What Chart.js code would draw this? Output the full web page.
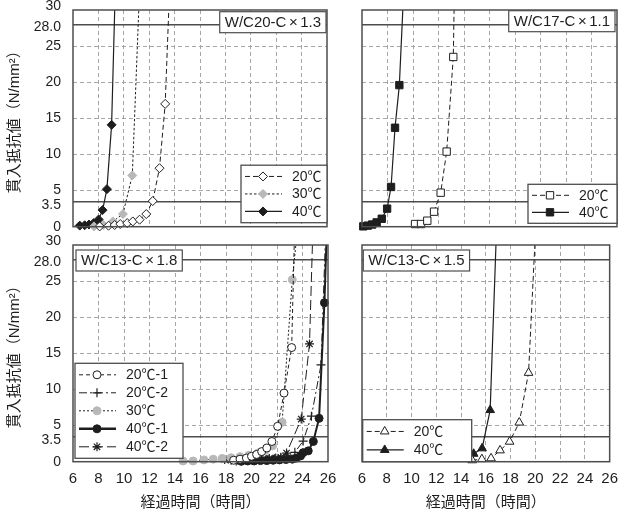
<!DOCTYPE html>
<html lang="ja">
<head>
<meta charset="utf-8">
<script src="https://cdn.jsdelivr.net/npm/chart.js@4.4.1/dist/chart.umd.min.js"></script>
<style>
  html, body { margin: 0; padding: 0; background: #fff; }
  #wrap { position: relative; width: 626px; height: 517px; }
  #wrap canvas { position: absolute; left: 0; top: 0; }
</style>
</head>
<body>
<div id="wrap">
  <canvas id="p1" width="626" height="517"></canvas>
  <canvas id="p2" width="626" height="517"></canvas>
  <canvas id="p3" width="626" height="517"></canvas>
  <canvas id="p4" width="626" height="517"></canvas>
</div>
<script>
// axis ticks shared by all four panels
const yTickValues = [0, 3.5, 5, 10, 15, 20, 25, 28, 30];
const yTickLabels = ['0', '3.5', '5', '10', '15', '20', '25', '28.0', '30'];
const refValues = [3.5, 28];          // solid reference lines
const xMin = 6, xMax = 26, xStep = 2;

const panelTitles = ['W/C20-C×1.3', 'W/C17-C×1.1', 'W/C13-C×1.8', 'W/C13-C×1.5'];
const yTitle = '貫入抵抗値（N/mm²）';
const xTitle = '経過時間（時間）';

// W/C20-C×1.3
const p1Labels = ['20℃', '30℃', '40℃'];
const p1T20 = [8.1, 8.8, 9.28, 9.72, 10.27, 10.71, 11.24, 11.77, 12.28, 12.81, 13.26, 13.65];
const p1V20 = [0.04, 0.14, 0.23, 0.37, 0.5, 0.73, 0.97, 1.75, 3.55, 8.1, 17.0, 35];
const p1T30 = [7.65, 8.41, 9.14, 9.93, 10.67, 11.29];
const p1V30 = [0.04, 0.23, 0.73, 1.75, 7.1, 35];
const p1T40 = [6.53, 6.92, 7.26, 7.63, 8.02, 8.33, 8.67, 9.04, 9.36];
const p1V40 = [0.15, 0.2, 0.3, 0.5, 1.0, 2.3, 5.2, 14.1, 35];

// W/C17-C×1.1
const p2Labels = ['20℃', '40℃'];
const p2T20 = [10.16, 10.63, 11.12, 11.65, 12.17, 12.64, 13.16, 13.27];
const p2V20 = [0.37, 0.37, 0.83, 2.08, 4.71, 10.4, 23.5, 35];
const p2T40 = [6.1, 6.45, 6.8, 7.15, 7.55, 7.97, 8.28, 8.59, 8.93, 9.33];
const p2V40 = [0.05, 0.15, 0.3, 0.6, 1.1, 2.5, 5.5, 13.7, 19.6, 35];

// W/C13-C×1.8
const p3Labels = ['20℃-1', '20℃-2', '30℃', '40℃-1', '40℃-2'];
const p3T20a = [18.6, 19.1, 19.6, 20.0, 20.4, 20.8, 21.2, 21.6, 22.05, 22.55, 23.15, 23.42];
const p3V20a = [0.2, 0.35, 0.5, 0.75, 1.0, 1.4, 1.9, 2.8, 4.9, 9.5, 15.8, 35];
const p3T20b = [18.8, 19.3, 19.8, 20.3, 20.8, 21.3, 21.8, 22.3, 22.8, 23.4, 24.05, 24.7, 25.45, 25.88];
const p3V20b = [0.1, 0.15, 0.2, 0.25, 0.3, 0.35, 0.4, 0.5, 0.7, 1.3, 2.85, 6.3, 13.4, 35];
const p3T30 = [14.63, 15.42, 16.27, 17.0, 17.7, 18.4, 19.1, 19.8, 20.5, 21.1, 21.65, 22.4, 23.2, 23.77];
const p3V30 = [0.1, 0.1, 0.25, 0.35, 0.45, 0.55, 0.7, 0.9, 1.2, 1.6, 2.2, 5.45, 25.2, 35];
const p3T40a = [19.2, 19.7, 20.2, 20.7, 21.2, 21.7, 22.2, 22.7, 23.2, 23.5, 23.85, 24.05, 24.45, 24.85, 25.3, 25.72, 25.96];
const p3V40a = [0.05, 0.1, 0.1, 0.15, 0.15, 0.2, 0.25, 0.3, 0.35, 0.5, 0.8, 1.25, 1.5, 2.8, 6.0, 22.0, 35];
const p3T40b = [17.9, 18.4, 18.9, 19.4, 19.9, 20.4, 20.9, 21.4, 21.9, 22.3, 22.75, 23.9, 24.55, 24.86];
const p3V40b = [0.3, 0.2, 0.25, 0.3, 0.3, 0.35, 0.4, 0.45, 0.5, 0.6, 1.2, 5.9, 16.3, 35];

// W/C13-C×1.5
const p4Labels = ['20℃', '40℃'];
const p4T20 = [14.9, 15.68, 16.42, 17.15, 17.92, 18.7, 19.45, 20.1];
const p4V20 = [0.2, 0.35, 0.47, 1.57, 2.77, 5.42, 12.3, 35];
const p4T40 = [13.69, 14.34, 15.02, 15.7, 16.35, 16.92];
const p4V40 = [0.4, 0.75, 1.1, 1.85, 7.15, 35];

// ---------------------------------------------------------------
const W = 626, H = 517;
const FONT = '"Liberation Sans", "Noto Sans CJK JP", sans-serif';
const INK = '#1e1e1e';
const FRAME = '#4d4d4d';
const GRAY = '#b8b8b8';
const yLabelNudge = [0, 4, 0, 0, 0, 0, 0, 3, -4];

function series(label, t, v, o) {
  return {
    label: label,
    data: t.map((x, i) => ({ x: x, y: v[i] })),
    borderColor: INK,
    borderWidth: o.lw || 1,
    borderDash: o.dash || [],
    pointStyle: o.shape,
    pointBackgroundColor: o.fill,
    pointBorderColor: o.stroke || INK,
    pointBorderWidth: o.pbw || 1,
    pointRadius: c => (c.raw && c.raw.y > 30 ? 0 : o.r),
    markerR: o.r,
    tension: 0,
    fill: false,
    clip: { left: 8, right: 8, top: 0, bottom: 8 }
  };
}

function drawTitleBox(ctx, a, t) {
  const parts = t.text.split('×');
  ctx.font = t.size + 'px ' + FONT;
  const w0 = ctx.measureText(parts[0]).width;
  const w1 = ctx.measureText('×').width;
  const w2 = ctx.measureText(parts[1]).width;
  const w = w0 + w1 + w2 + 2 * t.gap + 2 * t.pad;
  const x = t.corner === 'tr' ? a.right - t.dx - w : a.left + t.dx;
  const y = a.top + t.dy;
  ctx.fillStyle = '#fff';
  ctx.fillRect(x, y, w, t.h);
  ctx.strokeStyle = FRAME;
  ctx.lineWidth = 1.2;
  ctx.strokeRect(x, y, w, t.h);
  ctx.fillStyle = INK;
  ctx.textAlign = 'left';
  ctx.textBaseline = 'middle';
  let tx = x + t.pad;
  const ty = y + t.h / 2 + 0.5;
  ctx.fillText(parts[0], tx, ty);
  tx += w0 + t.gap;
  ctx.fillText('×', tx, ty);
  tx += w1 + t.gap;
  ctx.fillText(parts[1], tx, ty);
}

function drawLegend(ctx, a, datasets, lg) {
  const n = datasets.length;
  const h = n * lg.row + 5;
  const x = lg.corner === 'br' ? a.right - lg.dx - lg.w : a.left + lg.dx;
  const y = a.bottom - lg.dy - h;
  ctx.fillStyle = '#fff';
  ctx.fillRect(x, y, lg.w, h);
  ctx.strokeStyle = FRAME;
  ctx.lineWidth = 1.3;
  ctx.strokeRect(x, y, lg.w, h);
  datasets.forEach((ds, i) => {
    const cy = y + 2.5 + lg.row / 2 + i * lg.row;
    ctx.setLineDash(ds.borderDash);
    ctx.strokeStyle = ds.borderColor;
    ctx.lineWidth = ds.borderWidth + (ds.borderWidth > 1.5 ? 0.5 : 0);
    ctx.beginPath();
    ctx.moveTo(x + 4, cy);
    ctx.lineTo(x + 41, cy);
    ctx.stroke();
    ctx.setLineDash([]);
    ctx.fillStyle = ds.pointBackgroundColor;
    ctx.strokeStyle = ds.pointBorderColor;
    ctx.lineWidth = ds.pointBorderWidth;
    Chart.helpers.drawPoint(ctx, {
      pointStyle: ds.pointStyle, radius: ds.markerR, rotation: 0, borderWidth: ds.pointBorderWidth
    }, x + 22, cy);
    ctx.fillStyle = INK;
    ctx.font = '14px ' + FONT;
    ctx.textAlign = 'left';
    ctx.textBaseline = 'middle';
    ctx.fillText(ds.label, x + 51, cy + 0.5);
  });
}

const panelDeco = {
  id: 'panelDeco',
  afterDatasetsDraw(chart, args, o) {
    const ctx = chart.ctx, a = chart.chartArea;
    ctx.save();
    ctx.strokeStyle = FRAME;
    ctx.lineWidth = 1.5;
    ctx.strokeRect(a.left, a.top, a.right - a.left, a.bottom - a.top);
    drawTitleBox(ctx, a, o.title);
    drawLegend(ctx, a, chart.data.datasets, o.legend);
    ctx.restore();
  },
  afterDraw(chart, args, o) {
    if (!o.yLabels) return;
    const ctx = chart.ctx, s = chart.scales.y;
    ctx.save();
    ctx.font = '14px ' + FONT;
    ctx.fillStyle = INK;
    ctx.textAlign = 'right';
    ctx.textBaseline = 'middle';
    yTickValues.forEach((v, i) => {
      ctx.fillText(yTickLabels[i], s.right - 12, s.getPixelForValue(v) + yLabelNudge[i]);
    });
    ctx.restore();
  }
};

function makePanel(id, geo, datasets, title, legend) {
  const isLeft = geo.L < 200, isBottom = geo.B > 300;
  const yW = isLeft ? 73 : 4;
  const xH = isBottom ? 53 : 4;
  return new Chart(document.getElementById(id), {
    type: 'line',
    data: { datasets: datasets },
    options: {
      responsive: false,
      animation: false,
      events: [],
      devicePixelRatio: 1,
      layout: { padding: { left: geo.L - yW, top: geo.T, right: W - geo.R, bottom: H - geo.B - xH } },
      plugins: {
        legend: { display: false },
        tooltip: { enabled: false },
        panelDeco: { title: title, legend: legend, yLabels: isLeft }
      },
      scales: {
        x: {
          type: 'linear',
          min: xMin,
          max: xMax,
          afterFit: s => { s.height = xH; },
          ticks: {
            display: isBottom,
            stepSize: xStep,
            autoSkip: false,
            maxRotation: 0,
            padding: 8,
            color: INK,
            font: { family: FONT, size: 15 }
          },
          grid: {
            drawTicks: false,
            color: c => (c.tick && (c.tick.value === xMin || c.tick.value === xMax)) ? 'rgba(0,0,0,0)' : '#9c9c9c',
            lineWidth: 0.9
          },
          border: { display: false, dash: [4, 3] },
          title: {
            display: isBottom,
            text: xTitle,
            color: INK,
            font: { family: FONT, size: 15 },
            padding: { top: 4, bottom: 3 }
          }
        },
        y: {
          min: 0,
          max: 30,
          afterBuildTicks: s => { s.ticks = yTickValues.map(v => ({ value: v })); },
          afterFit: s => { s.width = yW; },
          ticks: { display: false },
          grid: {
            drawTicks: false,
            color: c => {
              if (!c.tick) return '#9c9c9c';
              if (refValues.includes(c.tick.value)) return '#4d4d4d';
              if (c.tick.value === 0 || c.tick.value === 30) return 'rgba(0,0,0,0)';
              return '#9c9c9c';
            },
            lineWidth: c => (c.tick && refValues.includes(c.tick.value)) ? 1.4 : 0.9
          },
          border: {
            display: false,
            dash: c => (c.tick && refValues.includes(c.tick.value)) ? [] : [4, 3]
          },
          title: {
            display: isLeft,
            text: yTitle,
            color: INK,
            font: { family: FONT, size: 15 },
            padding: { top: 6, bottom: 4 }
          }
        }
      }
    },
    plugins: [panelDeco]
  });
}

const openFill = '#ffffff';

makePanel('p1', { L: 73, T: 10, R: 327, B: 226.7 }, [
  series(p1Labels[0], p1T20, p1V20, { shape: 'rectRot', r: 4.5, fill: openFill, dash: [5, 3] }),
  series(p1Labels[1], p1T30, p1V30, { shape: 'rectRot', r: 4.5, fill: GRAY, stroke: GRAY, dash: [2.5, 2] }),
  series(p1Labels[2], p1T40, p1V40, { shape: 'rectRot', r: 4.5, fill: INK, lw: 1.2 })
], { text: panelTitles[0], corner: 'tr', dx: 1, dy: 1.7, h: 21, size: 15, pad: 5, gap: 2.5 },
   { corner: 'br', w: 86, dx: 0, dy: 4, row: 17.5 });

makePanel('p2', { L: 362, T: 10, R: 617, B: 226.7 }, [
  series(p2Labels[0], p2T20, p2V20, { shape: 'rect', r: 5.2, fill: openFill, dash: [5, 3] }),
  series(p2Labels[1], p2T40, p2V40, { shape: 'rect', r: 5.2, fill: INK, lw: 1.2 })
], { text: panelTitles[1], corner: 'tr', dx: 2, dy: 0.7, h: 21, size: 15, pad: 5, gap: 2.5 },
   { corner: 'br', w: 89, dx: 0, dy: 3.4, row: 17 });

makePanel('p3', { L: 73, T: 245, R: 328, B: 461.7 }, [
  series(p3Labels[0], p3T20a, p3V20a, { shape: 'circle', r: 4, fill: openFill, dash: [4, 3] }),
  series(p3Labels[1], p3T20b, p3V20b, { shape: 'cross', r: 4.5, fill: openFill, dash: [8, 3, 2, 3], pbw: 1.2 }),
  series(p3Labels[2], p3T30, p3V30, { shape: 'circle', r: 4, fill: GRAY, stroke: GRAY, dash: [2, 2] }),
  series(p3Labels[3], p3T40a, p3V40a, { shape: 'circle', r: 4, fill: INK, lw: 2 }),
  series(p3Labels[4], p3T40b, p3V40b, { shape: 'star', r: 4.5, fill: openFill, dash: [10, 4], pbw: 1.2 })
], { text: panelTitles[2], corner: 'tl', dx: 3, dy: 5, h: 21, size: 15, pad: 5, gap: 2.5 },
   { corner: 'bl', w: 108, dx: 2, dy: 3.4, row: 18 });

makePanel('p4', { L: 362, T: 245, R: 617, B: 461.7 }, [
  series(p4Labels[0], p4T20, p4V20, { shape: 'triangle', r: 5, fill: openFill, dash: [5, 3] }),
  series(p4Labels[1], p4T40, p4V40, { shape: 'triangle', r: 5, fill: INK, lw: 1.2 })
], { text: panelTitles[3], corner: 'tl', dx: 1.3, dy: 5, h: 21, size: 15, pad: 5, gap: 2.5 },
   { corner: 'bl', w: 109, dx: 0.7, dy: 0, row: 18.5 });
</script>
</body>
</html>
